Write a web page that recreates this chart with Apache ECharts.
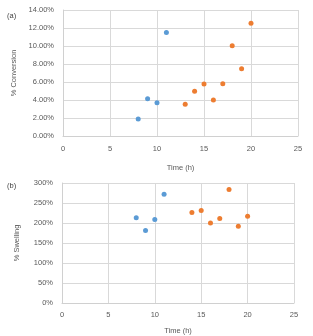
<!DOCTYPE html>
<html><head><meta charset="utf-8">
<script src="https://cdn.jsdelivr.net/npm/echarts@6/dist/echarts.min.js"></script>
<style>html,body{margin:0;padding:0;background:#fff}#c{width:313px;height:336px}</style>
</head><body><div id="c"></div>
<script>
const convBlueX = [8, 9, 10, 11];
const convBlueY = [1.9, 4.15, 3.7, 11.5];
const convOrangeX = [13, 14, 15, 16, 17, 18, 19, 20];
const convOrangeY = [3.52, 4.96, 5.78, 4.0, 5.8, 10.03, 7.48, 12.52];
const swellBlueX = [8, 9, 10, 11];
const swellBlueY = [213, 181, 209, 272];
const swellOrangeX = [14, 15, 16, 17, 18, 19, 20];
const swellOrangeY = [226, 231, 200, 211, 284, 192, 217];

const pair = (xs, ys) => xs.map((x, i) => [x, ys[i]]);
const FONT = 'Liberation Sans';
const lbl = {color: '#595959', fontSize: 7.5, fontFamily: FONT};
const gridLine = {show: true, lineStyle: {color: '#d9d9d9', width: 1}};
function xAxis(idx, margin, gap) {
  return {type: 'value', gridIndex: idx, min: 0, max: 25, interval: 5,
    name: 'Time (h)', nameLocation: 'middle', nameGap: gap,
    nameTextStyle: {color: '#595959', fontSize: 7.5, fontFamily: FONT},
    axisLine: {show: true, lineStyle: {color: '#d0d0d0'}}, axisTick: {show: false},
    axisLabel: Object.assign({margin: margin}, lbl), splitLine: gridLine};
}
const chart = echarts.init(document.getElementById('c'), null, {renderer: 'canvas'});
chart.setOption({
  animation: false,
  grid: [
    {left: 63, right: 15, top: 10, height: 126},
    {left: 62, right: 19, top: 183, height: 121}
  ],
  graphic: [
    {type: 'text', left: 7, top: 12, style: {text: '(a)', fill: '#404040', fontSize: 7.5, fontFamily: FONT}},
    {type: 'text', left: 7, top: 182, style: {text: '(b)', fill: '#404040', fontSize: 7.5, fontFamily: FONT}}
  ],
  xAxis: [xAxis(0, 9, 28), xAxis(1, 8, 24)],
  yAxis: [
    {type: 'value', gridIndex: 0, min: 0, max: 14, interval: 2,
      name: '% Conversion', nameLocation: 'middle', nameGap: 42,
      nameTextStyle: {color: '#595959', fontSize: 7.5, fontFamily: FONT},
      axisLine: {show: true, lineStyle: {color: '#d0d0d0'}}, axisTick: {show: false},
      axisLabel: Object.assign({margin: 9, formatter: v => v.toFixed(2) + '%'}, lbl),
      splitLine: gridLine},
    {type: 'value', gridIndex: 1, min: 0, max: 300, interval: 50,
      name: '% Swelling', nameLocation: 'middle', nameGap: 41,
      nameTextStyle: {color: '#595959', fontSize: 7.5, fontFamily: FONT},
      axisLine: {show: true, lineStyle: {color: '#d0d0d0'}}, axisTick: {show: false},
      axisLabel: Object.assign({margin: 9, formatter: v => v + '%'}, lbl),
      splitLine: gridLine}
  ],
  series: [
    {type: 'scatter', xAxisIndex: 0, yAxisIndex: 0, symbolSize: 5, itemStyle: {color: '#5B9BD5', opacity: 1}, data: pair(convBlueX, convBlueY)},
    {type: 'scatter', xAxisIndex: 0, yAxisIndex: 0, symbolSize: 5, itemStyle: {color: '#ED7D31', opacity: 1}, data: pair(convOrangeX, convOrangeY)},
    {type: 'scatter', xAxisIndex: 1, yAxisIndex: 1, symbolSize: 5, itemStyle: {color: '#5B9BD5', opacity: 1}, data: pair(swellBlueX, swellBlueY)},
    {type: 'scatter', xAxisIndex: 1, yAxisIndex: 1, symbolSize: 5, itemStyle: {color: '#ED7D31', opacity: 1}, data: pair(swellOrangeX, swellOrangeY)}
  ]
});
</script></body></html>
